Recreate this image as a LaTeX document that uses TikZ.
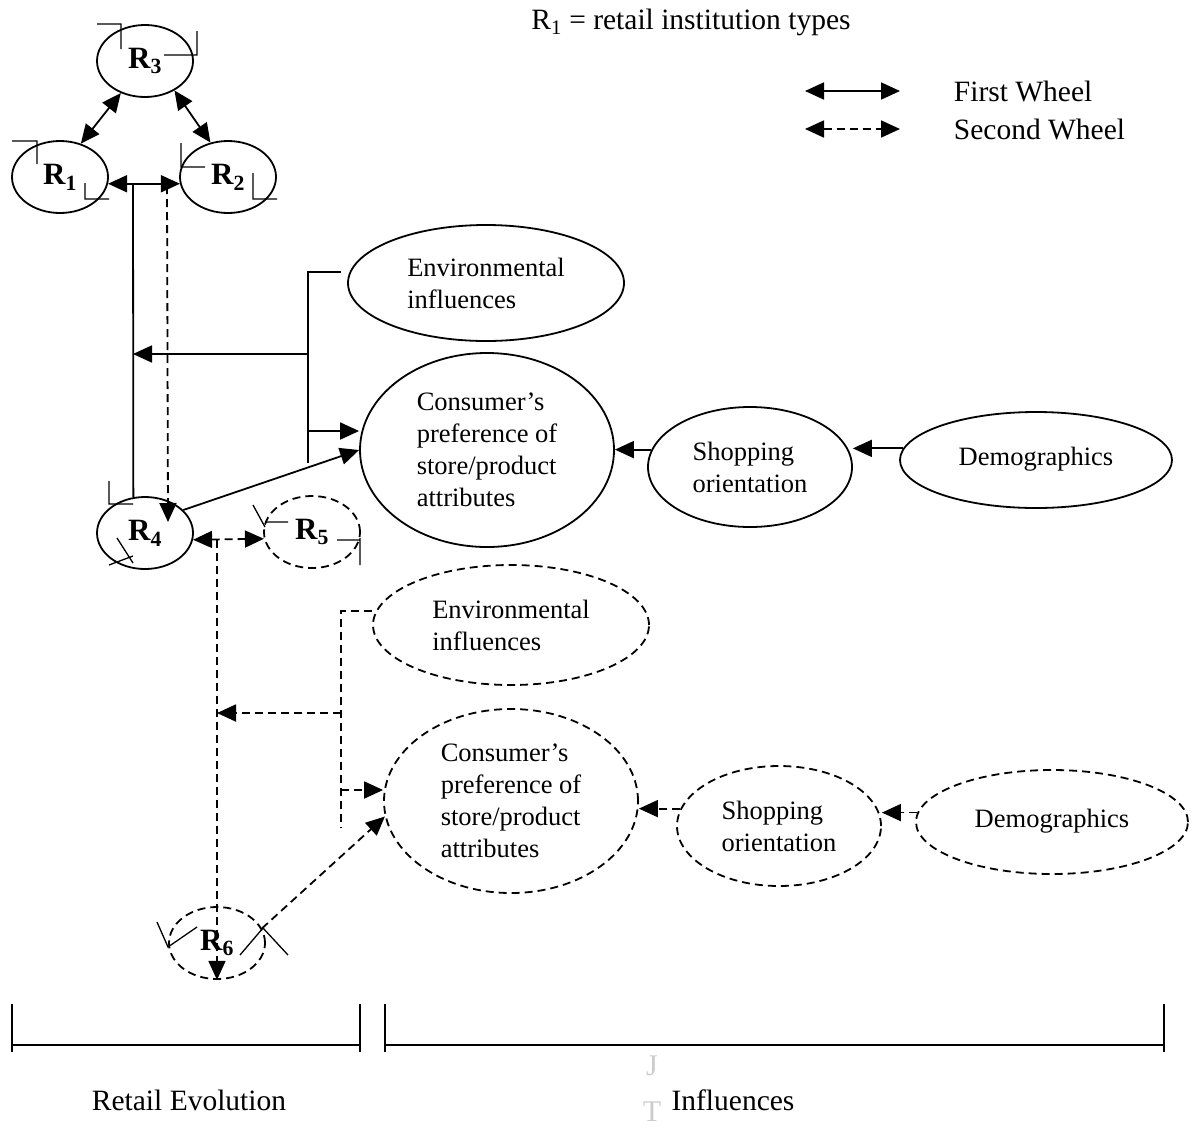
\documentclass[tikz,border=0pt]{standalone}
\usepackage{fontspec}
\setmainfont{Liberation Serif}
\usetikzlibrary{shapes.geometric, arrows.meta, positioning}

\begin{document}
\begin{tikzpicture}[x=1pt, y=-1pt, line width=1.8pt,
    wheel/.style={draw, ellipse, inner sep=0pt},
    second/.style={dash pattern=on 8pt off 5pt},
    onehead/.style={-{Triangle[length=19pt,width=17pt]}},
    twohead/.style={{Triangle[length=19pt,width=17pt]}-{Triangle[length=19pt,width=17pt]}},
    txt/.style={font=\fontsize{26.5}{32}\selectfont, align=left},
    lab/.style={font=\fontsize{29.5}{34}\selectfont, inner sep=0pt},
    rlab/.style={font=\fontsize{31}{34}\selectfont\bfseries, minimum width=96pt, minimum height=72pt}]
            \useasboundingbox (0,0) rectangle (1193,1133);
            \node [lab] (key) at (691,22) {R\textsubscript{1} = retail institution types};
            \node [lab, anchor=west] (first) at (953,91) {First Wheel};
            \node [lab, anchor=west] (sec) at (953,129) {Second Wheel};
            \draw [twohead] ([xshift=-148pt]first.west) -- ([xshift=-53pt]first.west);
            \draw [twohead, second] ([xshift=-148pt]sec.west) -- ([xshift=-53pt]sec.west);
            \node [wheel, rlab] (r3) at (145,61) {R\textsubscript{3}};
            \node [wheel, rlab] (r1) at (60,177) {R\textsubscript{1}};
            \node [wheel, rlab] (r2) at (228,177) {R\textsubscript{2}};
            \node [wheel, rlab] (r4) at (145,533) {R\textsubscript{4}};
            \node [wheel, rlab, second] (r5) at (312,532) {R\textsubscript{5}};
            \node [wheel, rlab, second] (r6) at (217,943) {R\textsubscript{6}};
            \node [wheel, txt, minimum width=276pt, minimum height=116pt] (env1) at (486,283) {Environmental\\influences};
            \node [wheel, txt, minimum width=254pt, minimum height=194pt] (pref1) at (487,450) {Consumer's\\preference of\\store/product\\attributes};
            \node [wheel, txt, minimum width=204pt, minimum height=120pt] (shop1) at (750,467) {Shopping\\orientation};
            \node [wheel, txt, minimum width=272pt, minimum height=96pt] (demo1) at (1036,460) {\raisebox{7pt}{Demographics}};
            \node [wheel, txt, second, minimum width=276pt, minimum height=120pt] (env2) at (511,625) {Environmental\\influences};
            \node [wheel, txt, second, minimum width=254pt, minimum height=184pt] (pref2) at (511,801) {Consumer's\\preference of\\store/product\\attributes};
            \node [wheel, txt, second, minimum width=204pt, minimum height=120pt] (shop2) at (779,826) {Shopping\\orientation};
            \node [wheel, txt, second, minimum width=272pt, minimum height=104pt] (demo2) at (1052,822) {\raisebox{7pt}{Demographics}};
            \coordinate (a1) at (133,184);
            \coordinate (a2) at (167,186);
            \coordinate (a3) at (168,522);
            \coordinate (h1) at (308,272);
            \coordinate (h2) at (308,463);
            \coordinate (h3) at (308,354);
            \coordinate (h4) at (308,431);
            \draw [twohead] (r3.233) -- (r1.58);
            \draw [twohead] (r3.315) -- (r2.117);
            \draw [twohead] (r1.352) -- (r2.188);
            \draw (a1) -- (r4.108);
            \draw [onehead, second] (a2) -- (a3);
            \draw (env1.west |- h1) ++(-6,0) -- (h1) -- (h2);
            \draw [onehead] (h3) -- (h3 -| a1);
            \draw [onehead] (h4) -- (h4 -| pref1.west);
            \draw [onehead] (r4.31) -- (pref1.west);
            \draw [onehead] (shop1.170) -- (shop1.170 -| pref1.east);
            \draw [onehead] (demo1.175) -- (demo1.175 -| shop1.east);
            \coordinate (b1) at (217,540);
            \coordinate (g1) at (341,611);
            \coordinate (g2) at (341,827);
            \coordinate (g3) at (341,713);
            \coordinate (g4) at (341,790);
            \draw [twohead, second] (r4.352) -- (r5.188);
            \draw [onehead, second] (b1) -- (r6.south);
            \draw [second] (env2.west |- g1) -- (g1) -- (g2);
            \draw [onehead, second] (g3) -- (g3 -| b1);
            \draw [onehead, second] (g4) -- (g4 -| pref2.west);
            \draw [onehead, second] (r6.18) -- (pref2.187);
            \draw [onehead, second] (shop2.170) -- (shop2.170 -| pref2.east);
            \draw [onehead, second] (demo2.176) -- (demo2.176 -| shop2.east);
            \draw [line width=1.3pt] (97,24) -- (121,24) -- (121,49) (164,55) -- (197,55) -- (197,31)
                (12,141) -- (37,141) -- (37,164) (85,183) -- (85,199) -- (109,199)
                (181,143) -- (181,167) -- (205,167) (253,173) -- (253,199) -- (277,199)
                (109,481) -- (109,504) -- (133,504) (117,538) -- (133,563) (109,565) -- (133,556)
                (253,505) -- (265,527) (265,522) -- (288,522) (337,540) -- (360,540) (360,538) -- (360,565)
                (157,922) -- (168,947) -- (197,927) (240,955) -- (263,928) -- (288,955);
            \draw [line width=2pt] (12,1004) -- (12,1052) (12,1045) -- (360,1045) (360,1004) -- (360,1052);
            \draw [line width=2pt] (385,1004) -- (385,1052) (385,1045) -- (1164,1045) (1164,1004) -- (1164,1052);
            \node [lab] (evo) at (189,1100) {Retail Evolution};
            \node [lab] (infl) at (733,1100) {Influences};
            \node [font=\fontsize{30}{34}\selectfont, text=gray!40] (j) at (652,1066) {J};
            \node [font=\fontsize{30}{34}\selectfont, text=gray!40] (t) at (652,1112) {T};
        \end{tikzpicture}
\end{document}
